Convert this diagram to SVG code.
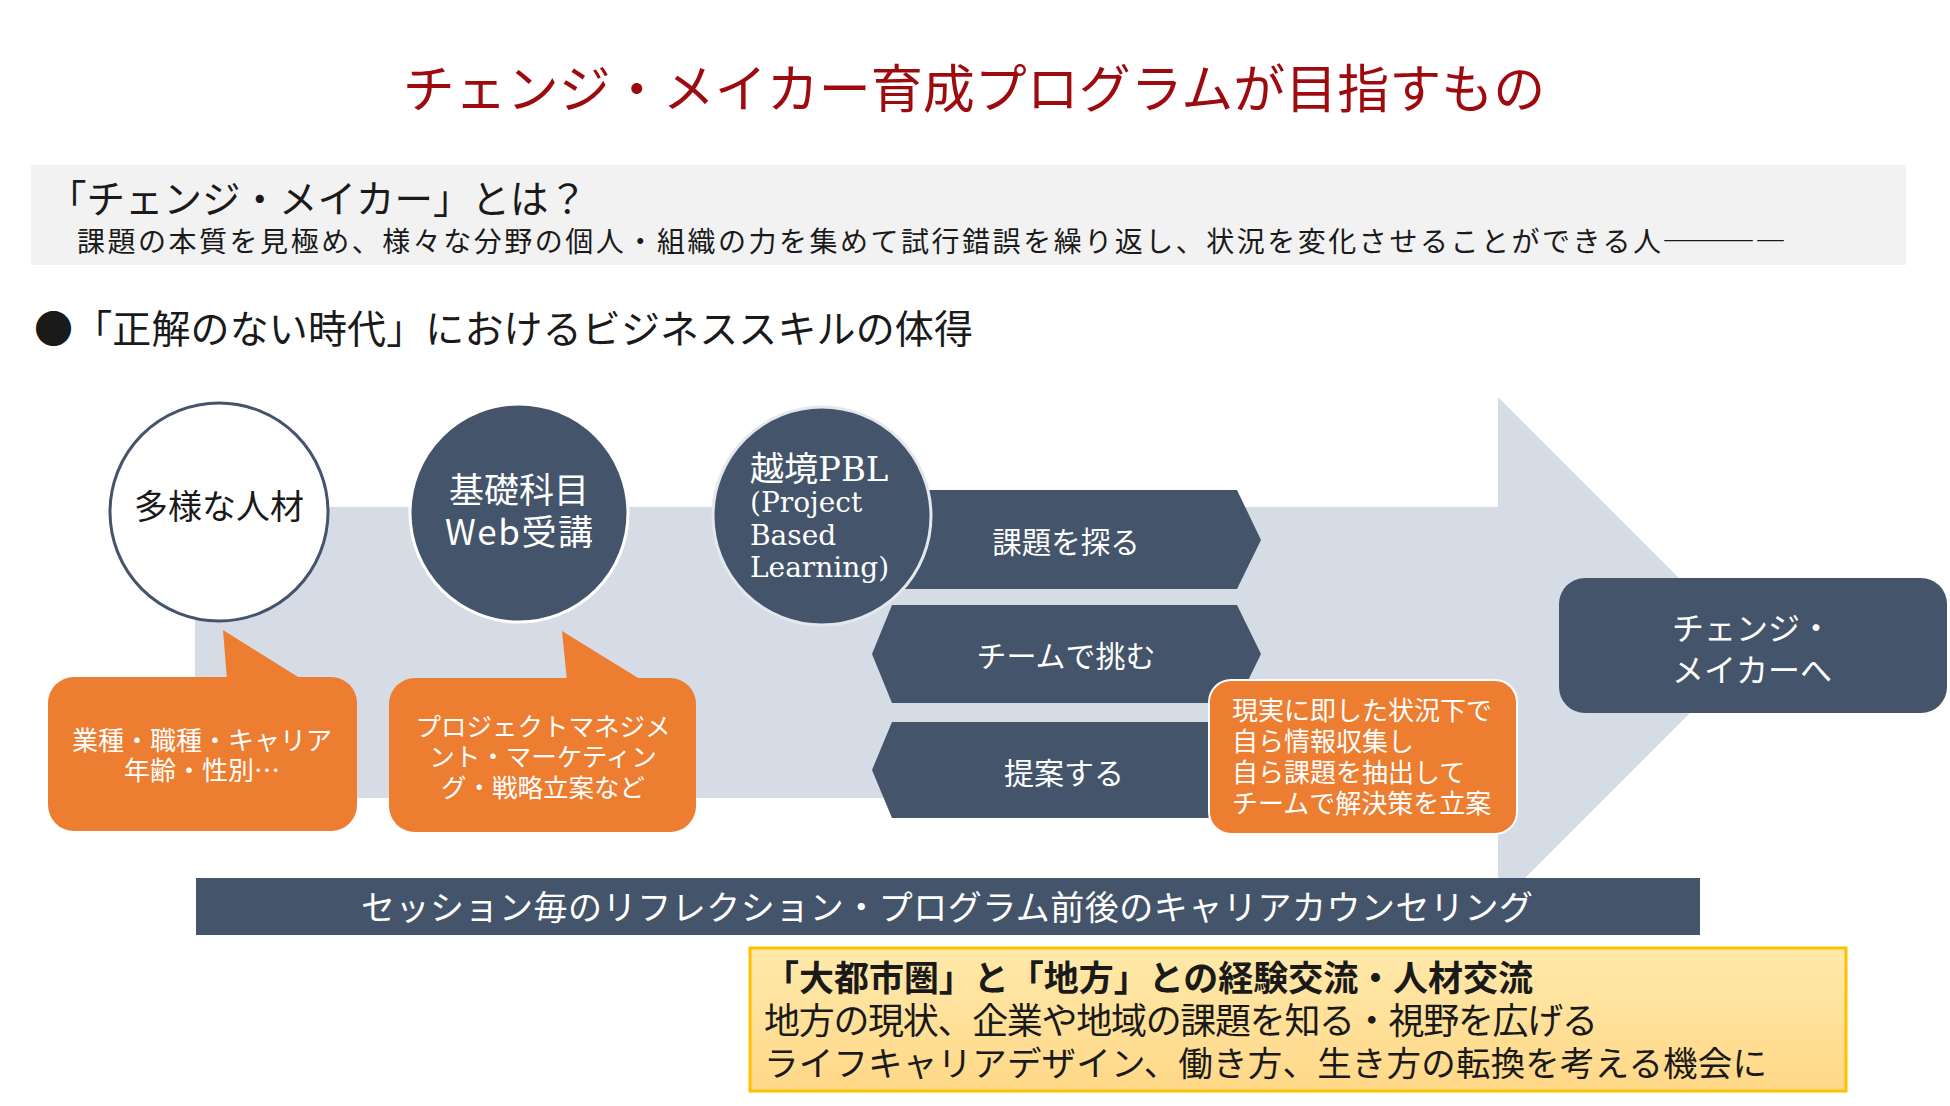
<svg xmlns="http://www.w3.org/2000/svg" width="1950" height="1106" viewBox="0 0 1950 1106">
<defs>
<linearGradient id="yellowGrad" x1="0" y1="0" x2="0" y2="1">
<stop offset="0" stop-color="#FFE9AA"/>
<stop offset="1" stop-color="#FFD888"/>
</linearGradient>
<style>
text{font-family:'Noto Sans CJK JP','Noto Sans',sans-serif;}
.dark{fill:#44546A;}
.orange{fill:#ED7D31;}
.w{fill:#FFFFFF;}
.k{fill:#1A1A1A;}
.serif{font-family:'DejaVu Serif','Noto Sans CJK JP',serif;}
</style>
</defs>
<rect x="0" y="0" width="1950" height="1106" fill="#FFFFFF"/>

<g id="title">
<text x="974" y="108" font-size="52" text-anchor="middle" fill="#9E0B0F">チェンジ・メイカー育成プログラムが目指すもの</text>
</g>

<g id="definition">
<rect x="31" y="165" width="1875" height="100" fill="#F2F2F2"/>
<text x="48" y="213" font-size="38.5" class="k">「チェンジ・メイカー」とは？</text>
<text x="77" y="252" font-size="28" class="k" textLength="1584" lengthAdjust="spacing">課題の本質を見極め、様々な分野の個人・組織の力を集めて試行錯誤を繰り返し、状況を変化させることができる人</text>
<text x="1662" y="252" font-size="31" class="k">――――</text>
</g>

<g id="heading">
<text x="34" y="343" font-size="39" class="k" textLength="939" lengthAdjust="spacing">●「正解のない時代」におけるビジネススキルの体得</text>
</g>

<g id="connectors">
<polygon points="195,507 1498,507 1498,397 1752,651 1498,905 1498,798 195,798" fill="#D6DCE5"/>
</g>

<g id="node-diverse">
<circle cx="219" cy="512" r="109" fill="#FFFFFF" stroke="#44546A" stroke-width="3"/>
<text x="219" y="519" font-size="34" text-anchor="middle" class="k">多様な人材</text>
</g>

<g id="node-web">
<circle cx="519" cy="513" r="109" class="dark" stroke="#FFFFFF" stroke-width="3"/>
<text x="519" y="503" font-size="35" text-anchor="middle" class="w">基礎科目</text>
<text x="519" y="545" font-size="35" text-anchor="middle" class="w" textLength="148" lengthAdjust="spacing">Web受講</text>
</g>

<g id="step-explore">
<polygon points="905,490 1237,490 1261,540 1237,589 905,589" class="dark"/>
<text x="1066" y="553" font-size="29.5" text-anchor="middle" class="w">課題を探る</text>
</g>

<g id="node-pbl">
<circle cx="822" cy="516" r="109" class="dark" stroke="#E4E8EE" stroke-width="3"/>
<text x="750" y="481" font-size="34" class="w serif">越境PBL</text>
<text x="750" y="512" font-size="28" class="w serif">(Project</text>
<text x="750" y="545" font-size="28" class="w serif">Based</text>
<text x="750" y="577" font-size="28" class="w serif">Learning)</text>
</g>

<g id="step-team">
<polygon points="892,605 1237,605 1261,654 1237,703 892,703 872,654" class="dark"/>
<text x="1066" y="667" font-size="30" text-anchor="middle" class="w">チームで挑む</text>
</g>

<g id="step-propose">
<polygon points="892,722 1237,722 1261,770 1237,818 892,818 872,770" class="dark"/>
<text x="1064" y="784" font-size="30" text-anchor="middle" class="w">提案する</text>
</g>

<g id="callout-diverse">
<rect x="48" y="677" width="309" height="154" rx="26" class="orange"/>
<polygon points="227,680 223,630 303,680" class="orange"/>
<text x="202" y="750" font-size="26" text-anchor="middle" class="w">業種・職種・キャリア</text>
<text x="202" y="780" font-size="26" text-anchor="middle" class="w">年齢・性別…</text>
</g>

<g id="callout-web">
<rect x="389" y="678" width="307" height="154" rx="26" class="orange"/>
<polygon points="567,681 562,631 643,681" class="orange"/>
<text x="543" y="736" font-size="25.5" text-anchor="middle" class="w">プロジェクトマネジメ</text>
<text x="543" y="766" font-size="25.5" text-anchor="middle" class="w">ント・マーケティン</text>
<text x="543" y="797" font-size="25.5" text-anchor="middle" class="w">グ・戦略立案など</text>
</g>

<g id="callout-pbl">
<rect x="1209" y="680" width="308" height="154" rx="22" class="orange" stroke="#FFFFFF" stroke-width="2"/>
<text x="1232" y="720" font-size="26" class="w">現実に即した状況下で</text>
<text x="1232" y="751" font-size="26" class="w">自ら情報収集し</text>
<text x="1232" y="782" font-size="26" class="w">自ら課題を抽出して</text>
<text x="1232" y="813" font-size="26" class="w">チームで解決策を立案</text>
</g>

<g id="node-goal">
<rect x="1559" y="578" width="388" height="135" rx="26" class="dark"/>
<text x="1752" y="640" font-size="32" text-anchor="middle" class="w">チェンジ・</text>
<text x="1752" y="682" font-size="32" text-anchor="middle" class="w">メイカーへ</text>
</g>

<g id="reflection-bar">
<rect x="196" y="878" width="1504" height="57" class="dark"/>
<text x="947" y="920" font-size="34" text-anchor="middle" class="w" textLength="1172" lengthAdjust="spacing">セッション毎のリフレクション・プログラム前後のキャリアカウンセリング</text>
</g>

<g id="exchange-box">
<rect x="750" y="948" width="1096" height="143" fill="url(#yellowGrad)" stroke="#FFC000" stroke-width="3"/>
<text x="764" y="991" font-size="35" font-weight="bold" class="k" textLength="769" lengthAdjust="spacing">「大都市圏」と「地方」との経験交流・人材交流</text>
<text x="764" y="1034" font-size="36" class="k" textLength="834" lengthAdjust="spacing">地方の現状、企業や地域の課題を知る・視野を広げる</text>
<text x="764" y="1076" font-size="34.5" class="k" textLength="1003" lengthAdjust="spacing">ライフキャリアデザイン、働き方、生き方の転換を考える機会に</text>
</g>
</svg>
